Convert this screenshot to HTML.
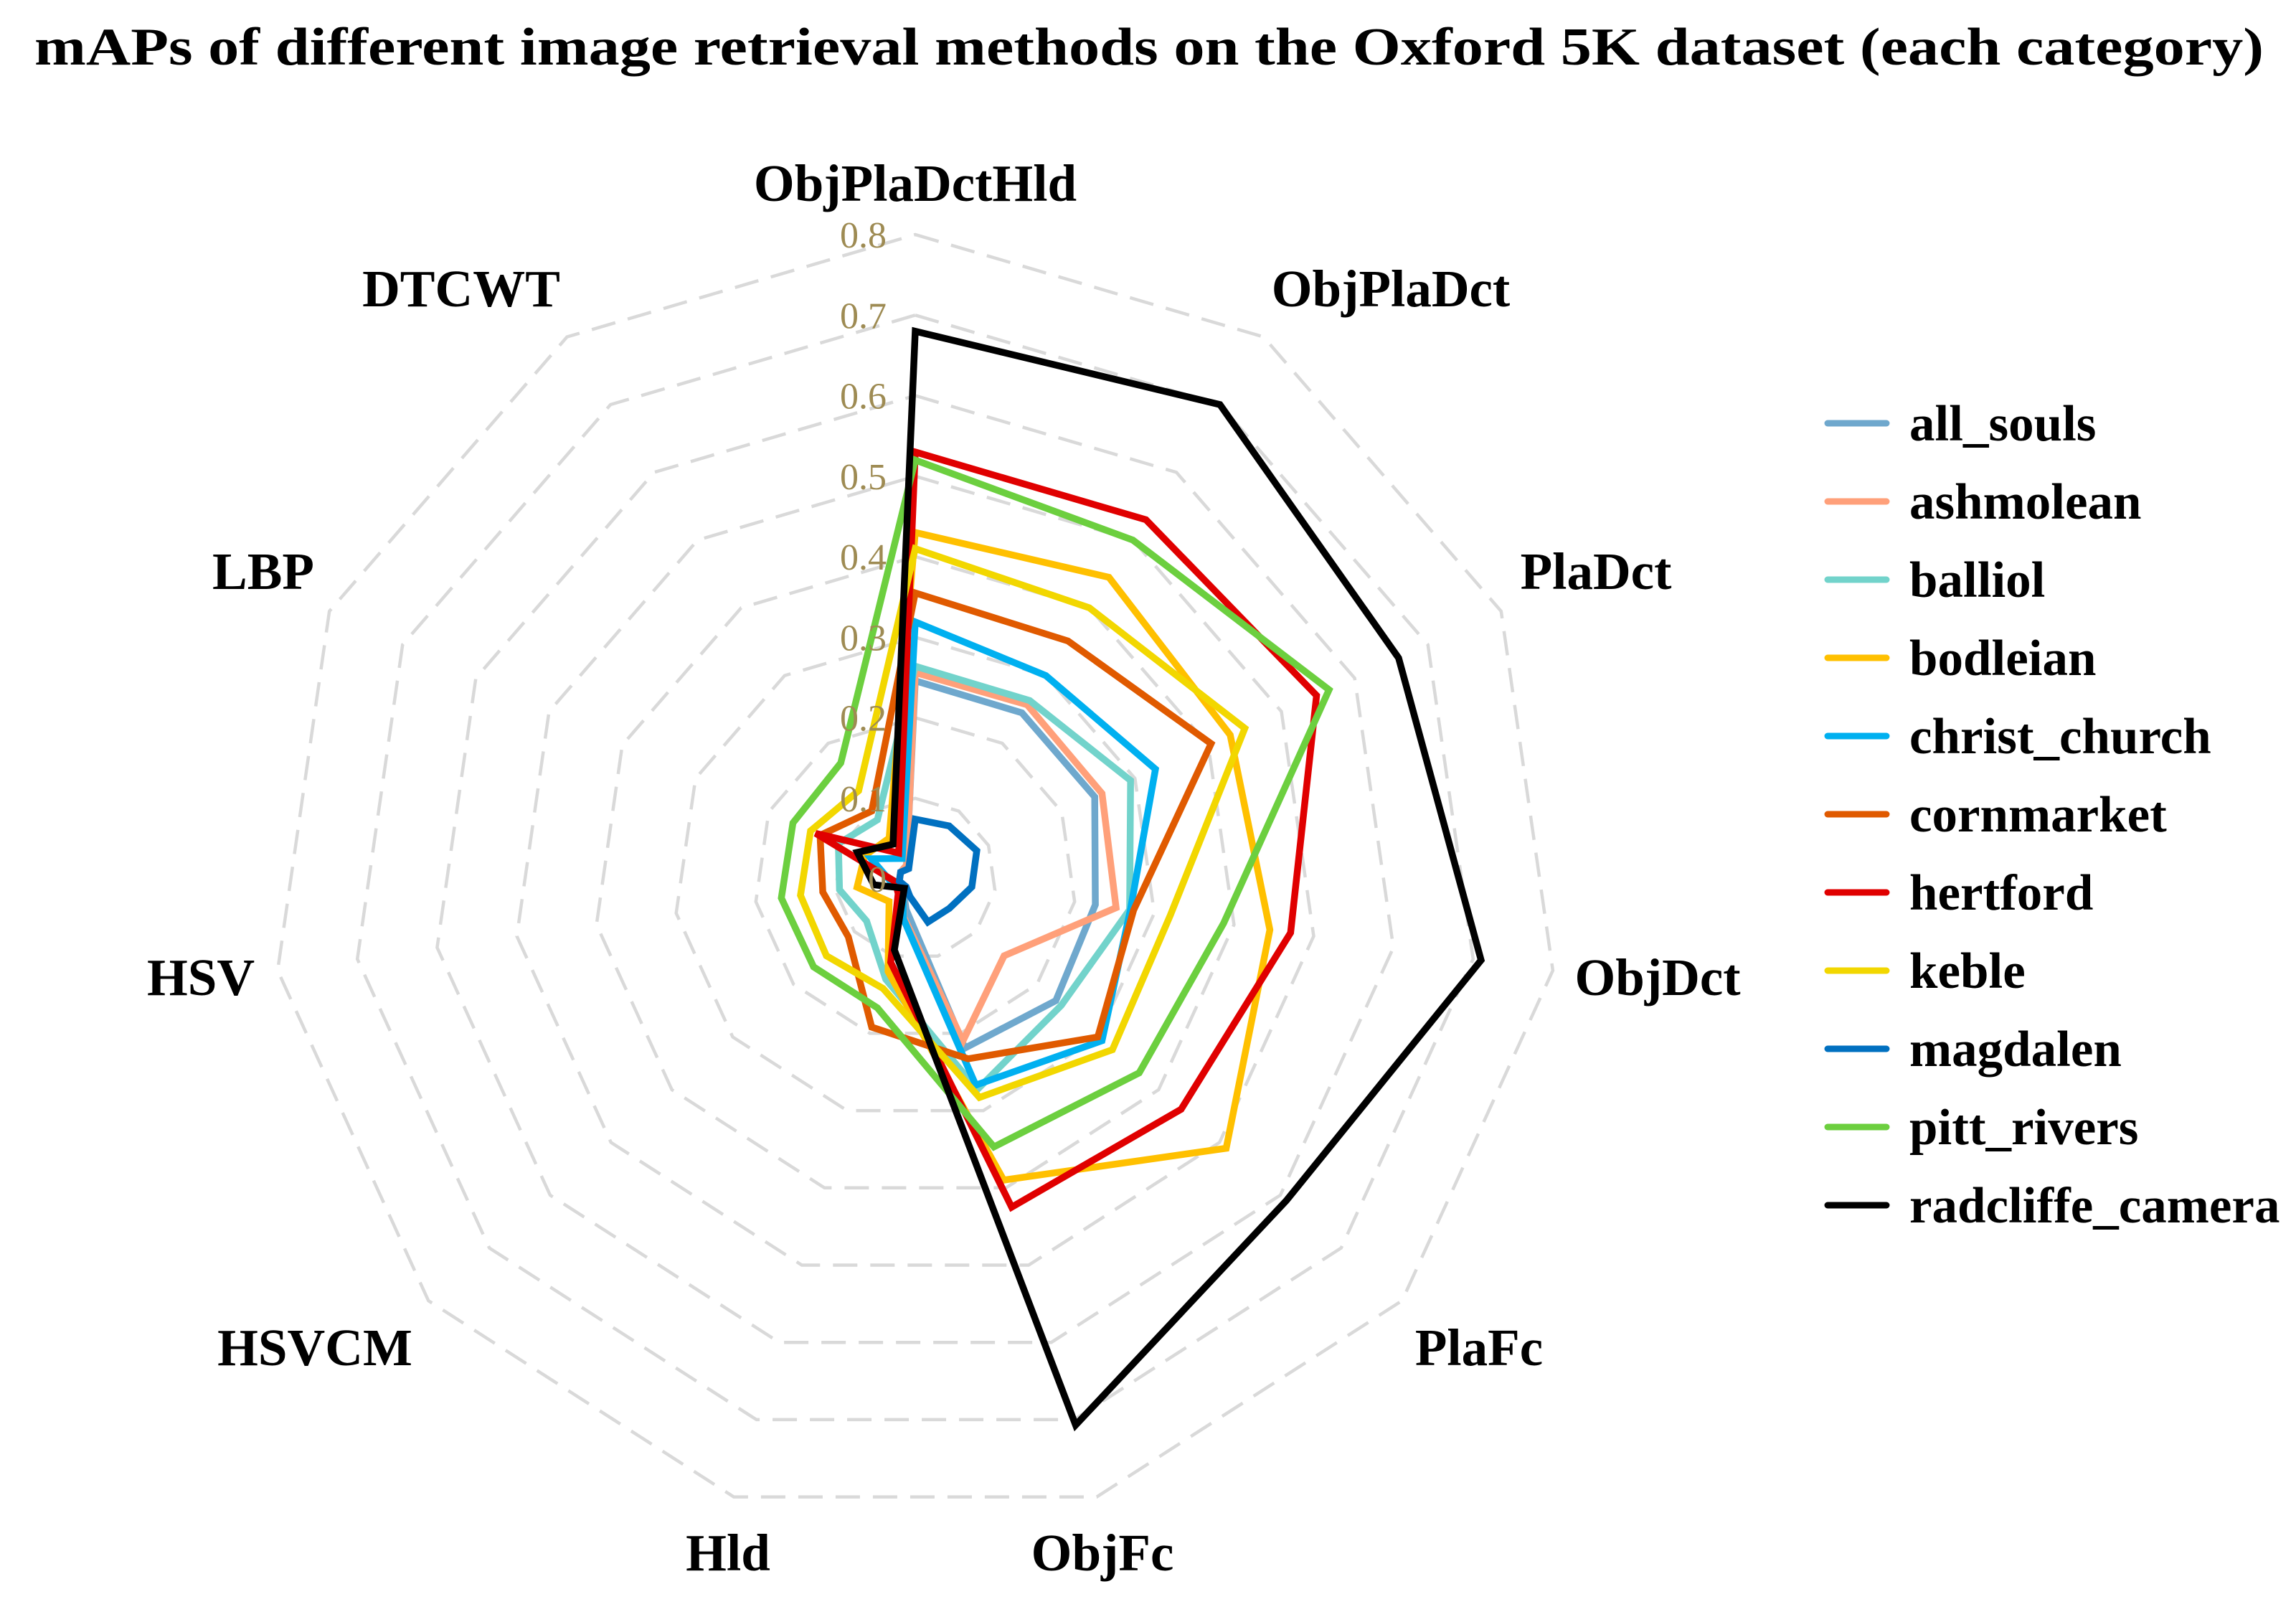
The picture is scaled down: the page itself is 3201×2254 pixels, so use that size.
<!DOCTYPE html>
<html><head><meta charset="utf-8">
<style>
html,body{margin:0;padding:0;background:#fff;}
svg{display:block;}
text{font-family:"Liberation Serif",serif;}
</style></head>
<body>
<svg id="chart" width="3201" height="2254" viewBox="0 0 3201 2254" xmlns="http://www.w3.org/2000/svg">
<text x="1602" y="90" text-anchor="middle" font-size="74" font-weight="bold" textLength="3108" lengthAdjust="spacingAndGlyphs">mAPs of different image retrieval methods on the Oxford 5K dataset (each category)</text>
<g id="grid"></g>
<g id="series"></g>
<g id="ticks"></g>
<g id="cats"></g>
<g id="legend"></g>
</svg>
<script>
const categories = ["ObjPlaDctHld","ObjPlaDct","PlaDct","ObjDct","PlaFc","ObjFc","Hld","HSVCM","HSV","LBP","DTCWT"];
const tickValues = [0,0.1,0.2,0.3,0.4,0.5,0.6,0.7,0.8];
const tickLabels = ["0","0.1","0.2","0.3","0.4","0.5","0.6","0.7","0.8"];
const seriesNames = ["all_souls","ashmolean","balliol","bodleian","christ_church","cornmarket","hertford","keble","magdalen","pitt_rivers","radcliffe_camera"];
const seriesColors = ["#6FA8CD","#FFA07A","#72D3CB","#FFC000","#00B0F0","#E05A00","#E00000","#F2D700","#0070C0","#6CCF3F","#000000"];
const allSouls    = [0.246,0.245,0.245,0.226,0.231,0.219,0.04,0.02,0.02,0.02,0.02];
const ashmolean   = [0.256,0.257,0.255,0.252,0.146,0.21,0.05,0.02,0.02,0.02,0.02];
const balliol     = [0.264,0.263,0.294,0.269,0.24,0.273,0.13,0.08,0.095,0.105,0.087];
const bodleian    = [0.43,0.445,0.43,0.445,0.511,0.39,0.12,0.043,0.073,0.069,0.06];
const christChurch= [0.319,0.30,0.328,0.27,0.307,0.267,0.052,0.02,0.03,0.06,0.03];
const cornmarket  = [0.355,0.351,0.404,0.274,0.30,0.233,0.192,0.11,0.116,0.13,0.10];
const hertford    = [0.53,0.53,0.548,0.471,0.437,0.425,0.108,0.028,0.025,0.136,0.038];
const keble       = [0.41,0.40,0.45,0.32,0.324,0.283,0.142,0.146,0.144,0.143,0.13];
const magdalen    = [0.074,0.078,0.084,0.071,0.056,0.056,0.023,0.015,0.02,0.02,0.015];
const pittRivers  = [0.52,0.50,0.565,0.387,0.368,0.347,0.167,0.167,0.168,0.167,0.171];
const radcliffe   = [0.68,0.70,0.66,0.71,0.61,0.707,0.092,0.018,0.052,0.079,0.051];
const seriesValues = [allSouls,ashmolean,balliol,bodleian,christChurch,cornmarket,hertford,keble,magdalen,pittRivers,radcliffe];

const NS="http://www.w3.org/2000/svg";
const CX=1276, CY=1225, R1=1122.5;
// label anchor positions (layout, not data)
const labelPos=[[1276,255],[1939,402],[2225,796],[2311,1362],[2062,1878],[1537,2164],[1015,2164],[439,1878],[280,1362],[367,796],[643,402]];
function ang(i){return i*2*Math.PI/categories.length;}
function pt(i,v){const a=ang(i);return [CX+Math.sin(a)*v*R1, CY-Math.cos(a)*v*R1];}
function mk(tag,parent){const e=document.createElementNS(NS,tag);parent.appendChild(e);return e;}

const grid=document.getElementById('grid');
tickValues.forEach((t,ti)=>{
  if(t===0) return;
  const p=categories.map((c,i)=>pt(i,t).map(n=>n.toFixed(1)).join(',')).join(' ');
  const pg=mk('polygon',grid);
  
  
  pg.setAttribute('points',p);
  pg.setAttribute('fill','none');pg.setAttribute('stroke','#d9d9d9');
  pg.setAttribute('stroke-width','4.5');pg.setAttribute('stroke-dasharray','34 18');
});

const sg=document.getElementById('series');
seriesValues.forEach((vals,si)=>{
  const p=vals.map((v,i)=>pt(i,v).map(n=>n.toFixed(1)).join(',')).join(' ');
  const pg=mk('polygon',sg);
  
  
  pg.setAttribute('points',p);
  pg.setAttribute('fill','none');pg.setAttribute('stroke',seriesColors[si]);
  pg.setAttribute('stroke-width','9.5');pg.setAttribute('stroke-linejoin','miter');
});

const tg=document.getElementById('ticks');
tickValues.forEach((t,ti)=>{
  const tx=mk('text',tg);
  
  
  tx.setAttribute('x',CX-40);tx.setAttribute('y',(CY-t*R1+18).toFixed(1));
  tx.setAttribute('text-anchor','end');tx.setAttribute('font-size','52');
  tx.setAttribute('fill','#9E8B53');
  tx.textContent=tickLabels[ti];
});

const cg=document.getElementById('cats');
categories.forEach((c,i)=>{
  const [x,y]=labelPos[i];
  const tx=mk('text',cg);
  
  
  tx.setAttribute('x',x);tx.setAttribute('y',y+25);
  tx.setAttribute('text-anchor','middle');tx.setAttribute('font-size','73');
  tx.setAttribute('font-weight','bold');
  tx.textContent=c;
});

const lg=document.getElementById('legend');
seriesNames.forEach((n,si)=>{
  const y=590+si*109;
  const g=mk('g',lg);
  
  
  const ln=mk('line',g);
  
  
  ln.setAttribute('x1',2548);ln.setAttribute('x2',2630);ln.setAttribute('y1',y);ln.setAttribute('y2',y);
  ln.setAttribute('stroke',seriesColors[si]);ln.setAttribute('stroke-width','9');ln.setAttribute('stroke-linecap','round');
  const tx=mk('text',g);
  
  
  tx.setAttribute('x',2662);tx.setAttribute('y',y+24);
  tx.setAttribute('font-size','71');tx.setAttribute('font-weight','bold');
  tx.textContent=n;
});
</script>
</body></html>
